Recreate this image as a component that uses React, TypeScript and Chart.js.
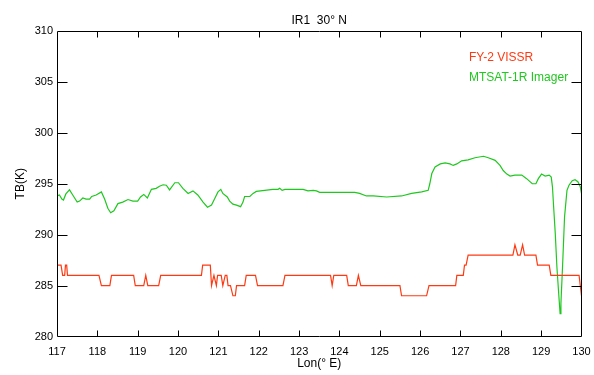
import React, { useEffect, useRef } from "react";
import { Chart, registerables } from "chart.js";

Chart.register(...registerables);

// ---------- data ----------
const chartTitle = "IR1  30° N";
const xTitle = "Lon(° E)";
const yTitle = "TB(K)";

const xMin = 117;
const xMax = 130;
const xStep = 1;
const yMin = 280;
const yMax = 310;
const yStep = 5;

const fyLabel = "FY-2 VISSR";
const fyLon = [
  117.0, 117.1, 117.14, 117.19, 117.21, 117.24, 117.26, 118.04, 118.1, 118.31,
  118.35, 118.9, 118.94, 119.15, 119.2, 119.25, 119.52, 119.57, 120.58, 120.61,
  120.8, 120.83, 120.89, 120.95, 120.98, 121.07, 121.11, 121.17, 121.21, 121.24,
  121.3, 121.36, 121.42, 121.45, 121.65, 121.69, 121.92, 121.97, 122.6, 122.65,
  123.78, 123.82, 123.86, 124.18, 124.22, 124.42, 124.47, 124.53, 125.5, 125.54,
  126.16, 126.22, 126.88, 126.91, 127.07, 127.1, 127.14, 127.19, 128.3, 128.35,
  128.42, 128.48, 128.54, 128.59, 128.87, 128.91, 129.2, 129.24, 129.94, 129.97,
  130.0,
];
const fyTb = [
  287, 287, 286, 286, 287, 287, 286, 286, 285, 285,
  286, 286, 285, 285, 286, 285, 285, 286, 286, 287,
  287, 285, 286, 285, 286, 286, 285, 286, 286, 285,
  285, 284, 284, 285, 285, 286, 286, 285, 285, 286,
  286, 285, 286, 286, 285, 285, 286, 285, 285, 284,
  284, 285, 285, 286, 286, 287, 287, 288, 288, 289,
  288, 288, 289, 288, 288, 287, 287, 286, 286, 285,
  284,
];

const mtLabel = "MTSAT-1R Imager";
const mtLon = [
  117.0, 117.06, 117.12, 117.16, 117.22, 117.31, 117.39, 117.5, 117.56, 117.64,
  117.72, 117.81, 117.86, 117.97, 118.1, 118.18, 118.26, 118.33, 118.41, 118.51,
  118.63, 118.76, 118.88, 119.0, 119.07, 119.15, 119.24, 119.34, 119.46, 119.54,
  119.63, 119.71, 119.79, 119.92, 120.01, 120.12, 120.25, 120.37, 120.49, 120.62,
  120.73, 120.83, 120.91, 120.99, 121.06, 121.11, 121.22, 121.28, 121.36, 121.45,
  121.55, 121.61, 121.65, 121.78, 121.86, 121.94, 122.15, 122.35, 122.48, 122.52,
  122.58, 122.65, 122.89, 123.1, 123.22, 123.35, 123.43, 123.51, 123.64, 123.88,
  124.22, 124.38, 124.5, 124.67, 124.84, 125.17, 125.54, 125.79, 126.04, 126.2,
  126.24, 126.29, 126.37, 126.5, 126.62, 126.74, 126.82, 126.91, 127.03, 127.19,
  127.36, 127.57, 127.69, 127.86, 127.98, 128.06, 128.15, 128.23, 128.35, 128.52,
  128.64, 128.78, 128.87, 128.93, 129.01, 129.1, 129.2, 129.25, 129.28, 129.31,
  129.35, 129.39, 129.44, 129.47, 129.49, 129.53, 129.58, 129.64, 129.69, 129.77,
  129.84, 129.91, 129.97, 130.0,
];
const mtTb = [
  293.8, 293.9, 293.5, 293.4, 294.0, 294.4, 293.9, 293.2, 293.3, 293.6,
  293.5, 293.5, 293.75, 293.9, 294.2, 293.5, 292.6, 292.15, 292.35, 293.05,
  293.2, 293.45, 293.3, 293.3, 293.7, 293.95, 293.6, 294.45, 294.55, 294.75,
  294.9, 294.85, 294.4, 295.1, 295.1, 294.55, 294.05, 294.3, 293.9, 293.2,
  292.7, 292.9, 293.55, 294.2, 294.45, 294.05, 293.7, 293.3, 293.0, 292.9,
  292.75, 293.2, 293.75, 293.75, 294.05, 294.25, 294.35, 294.45, 294.45, 294.55,
  294.35, 294.45, 294.45, 294.45, 294.3, 294.35, 294.3, 294.15, 294.15, 294.15,
  294.15, 294.15, 294.05, 293.8, 293.8, 293.7, 293.8, 294.05, 294.2, 294.35,
  295.0, 296.0, 296.65, 296.95, 297.05, 296.95, 296.8, 296.95, 297.25, 297.35,
  297.55, 297.7, 297.55, 297.3, 296.8, 296.3, 295.95, 295.75, 295.85, 295.85,
  295.5, 295.0, 295.0, 295.5, 295.95, 295.75, 295.85, 295.65, 294.7, 292.7,
  290.1, 286.85, 283.9, 282.25, 283.25, 286.85, 291.75, 294.35, 294.85, 295.3,
  295.4, 295.2, 294.7, 294.05,
];

const fyColor = "#ff3a12";
const mtColor = "#1fc81f";

// ---------- helpers ----------
const FONT = "'Liberation Sans', Arial, sans-serif";

function zip(xs: number[], ys: number[]) {
  return xs.map((x, i) => ({ x, y: ys[i] }));
}

const framePlugin = {
  id: "idlFrame",
  afterDraw(chart: any) {
    const { ctx, chartArea, scales } = chart;
    const { left, right, top, bottom } = chartArea;
    const L = Math.round(left) + 0.5;
    const R = Math.round(right) - 0.5;
    const T = Math.round(top) + 0.5;
    const B = Math.round(bottom) - 0.5;
    ctx.save();
    ctx.strokeStyle = "#000";
    ctx.lineWidth = 1;
    ctx.beginPath();
    ctx.rect(L, T, R - L, B - T);
    ctx.stroke();
    const xLen = 6;
    const yLen = 10;
    ctx.beginPath();
    scales.x.ticks.forEach((t: any) => {
      const px = Math.round(scales.x.getPixelForValue(t.value)) + 0.5;
      if (px <= L + 1 || px >= R - 1) return;
      ctx.moveTo(px, B);
      ctx.lineTo(px, B - xLen);
      ctx.moveTo(px, T);
      ctx.lineTo(px, T + xLen);
    });
    scales.y.ticks.forEach((t: any) => {
      const py = Math.round(scales.y.getPixelForValue(t.value)) + 0.5;
      if (py <= T + 1 || py >= B - 1) return;
      ctx.moveTo(L, py);
      ctx.lineTo(L + yLen, py);
      ctx.moveTo(R, py);
      ctx.lineTo(R - yLen, py);
    });
    ctx.stroke();

    // title
    ctx.fillStyle = "#000";
    ctx.font = `12px ${FONT}`;
    ctx.textAlign = "center";
    ctx.textBaseline = "middle";
    ctx.fillText(chartTitle, (left + right) / 2, 21);

    // legend (text only)
    ctx.textAlign = "left";
    chart.data.datasets.forEach((ds: any, i: number) => {
      ctx.fillStyle = ds.borderColor;
      ctx.fillText(ds.label, 469, 58 + i * 19.5);
    });
    ctx.restore();
  },
};

export default function App() {
  const ref = useRef<HTMLCanvasElement | null>(null);

  useEffect(() => {
    if (!ref.current) return;
    const chart = new Chart(ref.current, {
      type: "line",
      data: {
        datasets: [
          {
            label: fyLabel,
            data: zip(fyLon, fyTb),
            borderColor: fyColor,
            backgroundColor: fyColor,
            borderWidth: 1.2,
            pointRadius: 0,
            tension: 0,
          },
          {
            label: mtLabel,
            data: zip(mtLon, mtTb),
            borderColor: mtColor,
            backgroundColor: mtColor,
            borderWidth: 1.2,
            pointRadius: 0,
            tension: 0,
          },
        ],
      },
      plugins: [framePlugin],
      options: {
        responsive: false,
        animation: false,
        events: [],
        layout: { padding: { left: 0, right: 12.5, top: 31, bottom: 0 } },
        plugins: {
          legend: { display: false },
          title: { display: false },
          tooltip: { enabled: false },
        },
        scales: {
          x: {
            type: "linear",
            min: xMin,
            max: xMax,
            afterFit: (s: any) => {
              s.height = 38.5;
              s.paddingLeft = 0;
              s.paddingRight = 0;
            },
            grid: { display: false, drawTicks: false },
            border: { display: false },
            ticks: {
              stepSize: xStep,
              color: "#000",
              padding: 9,
              maxRotation: 0,
              autoSkip: false,
              font: { family: FONT, size: 11 },
            },
            title: {
              display: true,
              text: xTitle,
              color: "#000",
              font: { family: FONT, size: 12 },
              padding: { top: 0, bottom: 4.5 },
            },
          },
          y: {
            type: "linear",
            min: yMin,
            max: yMax,
            afterFit: (s: any) => {
              s.width = 57;
              s.paddingTop = 0;
              s.paddingBottom = 0;
            },
            grid: { display: false, drawTicks: false },
            border: { display: false },
            ticks: {
              stepSize: yStep,
              color: "#000",
              padding: 4,
              autoSkip: false,
              font: { family: FONT, size: 11 },
            },
            title: {
              display: true,
              text: yTitle,
              color: "#000",
              font: { family: FONT, size: 12 },
              padding: { top: 13, bottom: 0 },
            },
          },
        },
      },
    });
    return () => chart.destroy();
  }, []);

  return (
    <div
      style={{
        position: "fixed",
        left: 0,
        top: 0,
        width: 594,
        height: 375,
        background: "#fff",
      }}
    >
      <canvas ref={ref} width={594} height={375} style={{ display: "block" }} />
    </div>
  );
}
